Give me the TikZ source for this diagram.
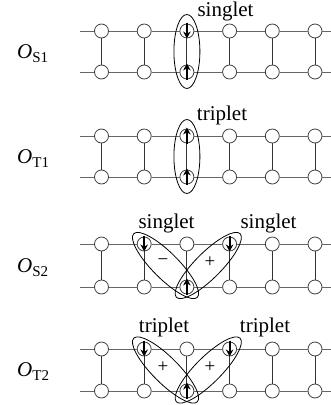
\documentclass[tikz,border=0pt]{standalone}
\usepackage{fontspec}
\setmainfont{Liberation Serif}
\usetikzlibrary{arrows.meta}
\begin{document}
\begin{tikzpicture}[x=1pt,y=-1pt,
  site/.style={circle,draw=black!75,fill=white,line width=0.8pt,minimum size=14pt,inner sep=0pt},
  rail/.style={draw=black!60,line width=1pt},
  rung/.style={draw=black!80,line width=1pt},
  spin/.style={line width=2.2pt,-{Stealth[length=7pt,width=7.5pt]}},
  pair/.style={draw=black,line width=0.8pt},
  lbl/.style={font=\fontsize{21}{24}\selectfont,inner sep=0pt,anchor=base},
  sgn/.style={font=\fontsize{19}{22}\selectfont,inner sep=0pt},
  olbl/.style={anchor=base west,inner sep=0pt}
]
\useasboundingbox (0,0) rectangle (331,405);

\foreach \k/\yt/\yb in {1/31/72,2/136/177,3/244/287,4/349/391}{
  \coordinate (tl\k) at (80,\yt);
  \coordinate (tr\k) at (331,\yt);
  \coordinate (bl\k) at (80,\yb);
  \coordinate (br\k) at (331,\yb);
  \foreach \i in {1,...,6}{
    \node[site] (t\k-\i) at ({101.5+42.7*(\i-1)},\yt) {};
    \node[site] (b\k-\i) at ({101.5+42.7*(\i-1)},\yb) {};
    \draw[rung] (t\k-\i) -- (b\k-\i);
  }
  \draw[rail] (tl\k) -- (t\k-1) -- (t\k-2) -- (t\k-3) -- (t\k-4) -- (t\k-5) -- (t\k-6) -- (tr\k);
  \draw[rail] (bl\k) -- (b\k-1) -- (b\k-2) -- (b\k-3) -- (b\k-4) -- (b\k-5) -- (b\k-6) -- (br\k);
}

% ladder 1: singlet
\draw[spin] ([yshift=8.5pt]t1-3.center) -- ([yshift=-7.5pt]t1-3.center);
\draw[spin] ([yshift=-7.5pt]b1-3.center) -- ([yshift=8.5pt]b1-3.center);
\draw[pair] (186.9,51.5) ellipse [x radius=13pt, y radius=37pt];
\node[lbl] (s1) at (225.5,16) {singlet};
\node[olbl] (o1) at (17,58) {\fontsize{21}{24}\selectfont\itshape O\upshape\fontsize{15}{18}\selectfont\raisebox{-4pt}{S1}};

% ladder 2: triplet
\draw[spin] ([yshift=-7.5pt]t2-3.center) -- ([yshift=8.5pt]t2-3.center);
\draw[spin] ([yshift=-7.5pt]b2-3.center) -- ([yshift=8.5pt]b2-3.center);
\draw[pair] (186.9,156.5) ellipse [x radius=13pt, y radius=37pt];
\node[lbl] (s2) at (222,120) {triplet};
\node[olbl] (o2) at (17,163) {\fontsize{21}{24}\selectfont\itshape O\upshape\fontsize{15}{18}\selectfont\raisebox{-4pt}{T1}};

% ladder 3: two singlets
\draw[spin] ([yshift=8.5pt]t3-2.center) -- ([yshift=-7.5pt]t3-2.center);
\draw[spin] ([yshift=8.5pt]t3-4.center) -- ([yshift=-7.5pt]t3-4.center);
\draw[spin] ([yshift=-7.5pt]b3-3.center) -- ([yshift=8.5pt]b3-3.center);
\draw[pair, rotate around={-45:(165.55,265.5)}] (165.55,265.5) ellipse [x radius=45pt, y radius=13pt];
\draw[pair, rotate around={45:(208.25,265.5)}] (208.25,265.5) ellipse [x radius=45pt, y radius=13pt];
\node[lbl] (s3a) at (166.5,228) {singlet};
\node[lbl] (s3b) at (268.5,228) {singlet};
\node[sgn] (m3) at (163,262) {−};
\node[sgn] (p3) at (210,262) {+};
\node[olbl] (o3) at (17,272) {\fontsize{21}{24}\selectfont\itshape O\upshape\fontsize{15}{18}\selectfont\raisebox{-4pt}{S2}};

% ladder 4: two triplets
\draw[spin] ([yshift=8.5pt]t4-2.center) -- ([yshift=-7.5pt]t4-2.center);
\draw[spin] ([yshift=8.5pt]t4-4.center) -- ([yshift=-7.5pt]t4-4.center);
\draw[spin] ([yshift=-7.5pt]b4-3.center) -- ([yshift=8.5pt]b4-3.center);
\draw[pair, rotate around={-45:(165.55,370)}] (165.55,370) ellipse [x radius=45pt, y radius=13pt];
\draw[pair, rotate around={45:(208.25,370)}] (208.25,370) ellipse [x radius=45pt, y radius=13pt];
\node[lbl] (t4a) at (164,332) {triplet};
\node[lbl] (t4b) at (265,332) {triplet};
\node[sgn] (p4a) at (163,367) {+};
\node[sgn] (p4b) at (210,367) {+};
\node[olbl] (o4) at (17,376) {\fontsize{21}{24}\selectfont\itshape O\upshape\fontsize{15}{18}\selectfont\raisebox{-4pt}{T2}};
\end{tikzpicture}
\end{document}
